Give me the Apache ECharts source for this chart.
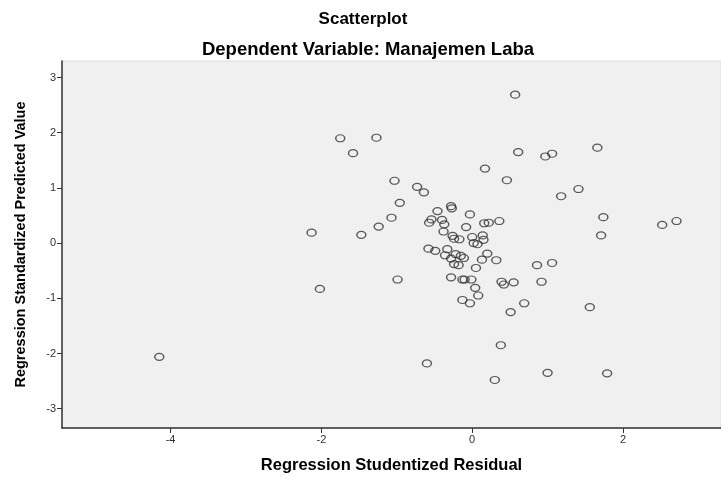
<!DOCTYPE html>
<html>
<head>
<meta charset="utf-8">
<script src="https://cdn.jsdelivr.net/npm/echarts@6/dist/echarts.min.js"></script>
<style>
html,body{margin:0;padding:0;background:#fff;}
#c{width:721px;height:479px;}
</style>
</head>
<body>
<div id="c"></div>
<script>
const chartTitle = "Scatterplot";
const chartSubtitle = "Dependent Variable: Manajemen Laba";
const xAxisName = "Regression Studentized Residual";
const yAxisName = "Regression Standardized Predicted Value";
const xTicks = [-4, -2, 0, 2];
const yTicks = [-3, -2, -1, 0, 1, 2, 3];

const residuals = [
  -4.15, -2.13, -2.02, -1.75, -1.58, -1.27, -1.47, -1.24, -1.03, -0.96,
  -1.07, -0.99, -0.73, -0.64, -0.60, 0.57, 0.17, 0.61, 0.97, 1.06,
  1.66, 0.46, 1.18, 1.41, 1.74, 1.71, 2.52, 2.71, 0.86, 1.06,
  0.55, 0.39, 0.42, 0.92, 0.69, 0.51, 1.56, 0.38, 1.00, 1.79,
  0.30,
  -0.28, -0.27, -0.46, -0.03, -0.54, -0.57, -0.40, -0.37, -0.08, -0.38,
  -0.26, -0.24, -0.17, 0.16, 0.22, 0.36, 0.00, 0.14, 0.15, 0.02,
  0.07,
  -0.58, -0.49, -0.33, -0.36, -0.28, -0.22, -0.15, -0.11, -0.24, -0.18,
  0.20, 0.13, 0.32, 0.05, -0.28, -0.13, -0.10, -0.01, 0.04, 0.08,
  -0.13, -0.03
];
const predicted = [
  -2.06, 0.19, -0.83, 1.90, 1.63, 1.91, 0.15, 0.30, 1.13, 0.73,
  0.46, -0.66, 1.02, 0.92, -2.18, 2.69, 1.35, 1.65, 1.57, 1.62,
  1.73, 1.14, 0.85, 0.98, 0.47, 0.14, 0.33, 0.40, -0.40, -0.36,
  -0.71, -0.70, -0.75, -0.70, -1.09, -1.25, -1.16, -1.85, -2.35, -2.36,
  -2.48,
  0.67, 0.63, 0.58, 0.52, 0.43, 0.37, 0.42, 0.34, 0.29, 0.21,
  0.13, 0.08, 0.07, 0.36, 0.37, 0.40, 0.11, 0.14, 0.06, 0.00,
  -0.02,
  -0.10, -0.14, -0.11, -0.22, -0.28, -0.20, -0.23, -0.27, -0.38, -0.40,
  -0.19, -0.30, -0.31, -0.45, -0.62, -0.66, -0.66, -0.66, -0.81, -0.95,
  -1.03, -1.09
];

const points = residuals.map((x, i) => [x, predicted[i]]);
const font = '"Liberation Sans", Arial, sans-serif';

const chart = echarts.init(document.getElementById('c'), null, {renderer: 'canvas'});
chart.setOption({
  animation: false,
  backgroundColor: '#ffffff',
  title: [
    {text: chartTitle, left: 358, top: 6, textAlign: 'center',
     textStyle: {fontFamily: font, fontSize: 17, fontWeight: 'bold', color: '#000'}},
    {text: chartSubtitle, left: 363, top: 35, textAlign: 'center',
     textStyle: {fontFamily: font, fontSize: 18.5, fontWeight: 'bold', color: '#000'}}
  ],
  grid: {
    left: 62, right: 0, top: 61, bottom: 51,
    show: true, backgroundColor: '#f0f0f0', borderColor: '#dcdcdc', borderWidth: 1
  },
  xAxis: {
    type: 'value', min: -5.44, max: 3.3,
    name: xAxisName, nameLocation: 'middle', nameGap: 29,
    nameTextStyle: {fontFamily: font, fontSize: 16.5, fontWeight: 'bold', color: '#000'},
    axisLine: {show: true, onZero: false, lineStyle: {color: '#333', width: 1.5}},
    axisTick: {show: true, length: 5, customValues: xTicks, lineStyle: {color: '#333'}},
    axisLabel: {customValues: xTicks, fontFamily: font, fontSize: 11, color: '#333', margin: 6},
    splitLine: {show: false}
  },
  yAxis: {
    type: 'value', min: -3.35, max: 3.3,
    name: yAxisName, nameLocation: 'middle', nameGap: 34, nameRotate: 90,
    nameTextStyle: {fontFamily: font, fontSize: 14.5, fontWeight: 'bold', color: '#000'},
    axisLine: {show: true, onZero: false, lineStyle: {color: '#333', width: 1.5}},
    axisTick: {show: true, length: 5, customValues: yTicks, lineStyle: {color: '#333'}},
    axisLabel: {customValues: yTicks, fontFamily: font, fontSize: 11, color: '#333', margin: 6},
    splitLine: {show: false}
  },
  series: [{
    type: 'scatter',
    data: points,
    symbol: 'circle',
    symbolSize: [9, 7],
    itemStyle: {color: 'rgba(0,0,0,0)', borderColor: '#333', borderWidth: 1.3}
  }]
});
</script>
</body>
</html>
